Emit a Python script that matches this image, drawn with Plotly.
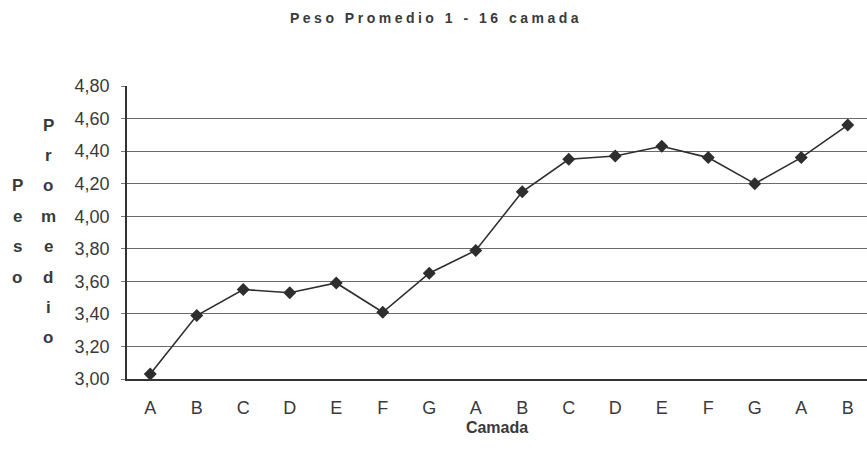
import plotly.graph_objects as go

# Average weight per batch (camada 1 - 16)
camadas = ["A", "B", "C", "D", "E", "F", "G", "A", "B", "C", "D", "E", "F", "G", "A", "B"]
peso_promedio = [3.03, 3.39, 3.55, 3.53, 3.59, 3.41, 3.65, 3.79,
                 4.15, 4.35, 4.37, 4.43, 4.36, 4.20, 4.36, 4.56]
y_ticks = [3.0, 3.2, 3.4, 3.6, 3.8, 4.0, 4.2, 4.4, 4.6, 4.8]

titulo = "Peso Promedio 1 - 16 camada"
titulo_y_izq = "Peso"
titulo_y_der = "Promedio"

W, H = 867, 463
L, R, T, B = 127, 0, 86, 84
plot_w, plot_h = W - L - R, H - T - B

TXT = "#3a3a3a"
FONT = "Liberation Sans, Arial, sans-serif"

x_idx = list(range(len(camadas)))

fig = go.Figure()
fig.add_trace(go.Scatter(
    x=x_idx, y=peso_promedio,
    mode="lines+markers",
    line=dict(color="#2e2e2e", width=1.6),
    marker=dict(symbol="diamond", size=10, color="#2e2e2e"),
    showlegend=False,
    hoverinfo="skip",
))


def px_to_paper_x(px):
    return (px - L) / plot_w


def px_to_paper_y(py):
    return (H - B - py) / plot_h


annotations = []

# Chart title, letter-spaced
spaced_title = "\u2005".join(titulo)
annotations.append(dict(
    text="<b>" + spaced_title + "</b>", x=px_to_paper_x(434), y=px_to_paper_y(18),
    xref="paper", yref="paper", showarrow=False, xanchor="center", yanchor="middle",
    font=dict(family=FONT, size=14, color=TXT),
))

# Vertical stacked y-axis title in two columns
row0, step = 125.0, 30.4
for i, ch in enumerate(titulo_y_der):
    annotations.append(dict(
        text="<b>" + ch + "</b>", x=px_to_paper_x(48), y=px_to_paper_y(row0 + i * step),
        xref="paper", yref="paper", showarrow=False, xanchor="center", yanchor="middle",
        font=dict(family=FONT, size=17, color=TXT),
    ))
for i, ch in enumerate(titulo_y_izq):
    annotations.append(dict(
        text="<b>" + ch + "</b>", x=px_to_paper_x(17), y=px_to_paper_y(row0 + (i + 2) * step),
        xref="paper", yref="paper", showarrow=False, xanchor="center", yanchor="middle",
        font=dict(family=FONT, size=17, color=TXT),
    ))

fig.update_layout(
    width=W, height=H,
    margin=dict(l=L, r=R, t=T, b=B, pad=0),
    paper_bgcolor="white", plot_bgcolor="white",
    separators=",.",
    annotations=annotations,
    xaxis=dict(
        range=[-0.5, -0.5 + plot_w / 46.5],
        tickmode="array", tickvals=x_idx, ticktext=camadas,
        showgrid=False, zeroline=False,
        showline=True, linecolor="#333333", linewidth=1.5,
        ticks="", ticklabelstandoff=12,
        tickfont=dict(family=FONT, size=18, color=TXT),
        title=dict(text="<b>Camada</b>", standoff=4,
                   font=dict(family=FONT, size=16, color=TXT)),
        fixedrange=True,
    ),
    yaxis=dict(
        range=[3.0, 4.8],
        tickmode="array", tickvals=y_ticks, tickformat=".2f",
        showgrid=True, gridcolor="#6a6a6a", gridwidth=1,
        zeroline=False,
        showline=True, linecolor="#333333", linewidth=1.5,
        ticks="outside", ticklen=4, tickcolor="#777777",
        ticklabelstandoff=8,
        tickfont=dict(family=FONT, size=18, color=TXT),
        fixedrange=True,
    ),
)

fig.write_html("out.html")
